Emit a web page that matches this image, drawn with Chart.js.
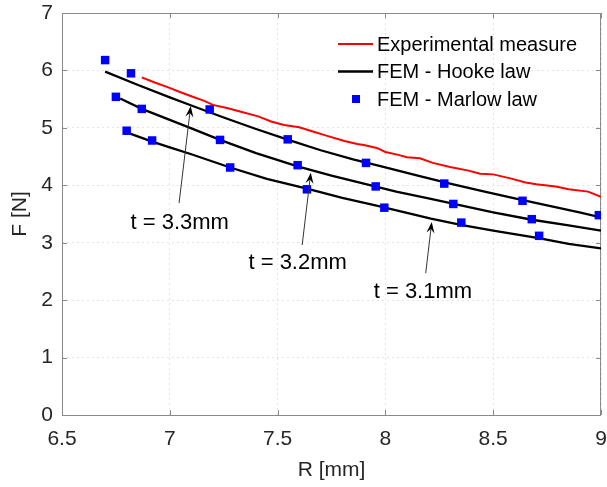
<!DOCTYPE html>
<html>
<head>
<meta charset="utf-8">
<script src="https://cdn.jsdelivr.net/npm/chart.js@4.4.0/dist/chart.umd.min.js"></script>
<style>
  html, body { margin: 0; padding: 0; background: #fff; }
  #wrap { width: 607px; height: 487px; }
</style>
</head>
<body>
<div id="wrap"><canvas id="forceChart" width="607" height="487"></canvas></div>
<script>
// Experimental measure
const expR = [6.87, 6.93, 6.99, 7.05, 7.10, 7.16, 7.20, 7.27, 7.33, 7.41, 7.47, 7.53, 7.60, 7.66, 7.73, 7.81, 7.87, 7.90, 7.96, 8.00, 8.06, 8.10, 8.16, 8.22, 8.30, 8.38, 8.44, 8.50, 8.58, 8.65, 8.70, 8.79, 8.85, 8.94, 9.00];
const expF = [5.88, 5.79, 5.71, 5.62, 5.55, 5.47, 5.40, 5.34, 5.28, 5.20, 5.11, 5.05, 5.01, 4.94, 4.86, 4.77, 4.72, 4.70, 4.65, 4.58, 4.53, 4.49, 4.47, 4.39, 4.32, 4.26, 4.20, 4.19, 4.12, 4.05, 4.02, 3.98, 3.93, 3.89, 3.80];

// FEM - Hooke law, one curve per thickness
const hooke33R = [6.70, 6.85, 7.00, 7.10, 7.25, 7.40, 7.55, 7.70, 7.85, 8.00, 8.15, 8.30, 8.45, 8.60, 8.75, 8.90, 9.00];
const hooke33F = [5.98, 5.75, 5.53, 5.39, 5.18, 4.98, 4.79, 4.61, 4.45, 4.31, 4.17, 4.03, 3.90, 3.77, 3.65, 3.53, 3.44];
const hooke32R = [6.77, 6.87, 7.00, 7.10, 7.233, 7.40, 7.593, 7.75, 7.90, 8.05, 8.20, 8.35, 8.50, 8.68, 8.85, 9.00];
const hooke32F = [5.51, 5.33, 5.14, 4.99, 4.79, 4.56, 4.33, 4.17, 4.03, 3.89, 3.77, 3.65, 3.53, 3.40, 3.30, 3.21];
const hooke31R = [6.80, 6.918, 7.00, 7.10, 7.28, 7.45, 7.636, 7.80, 7.964, 8.10, 8.211, 8.35, 8.50, 8.711, 8.85, 9.00];
const hooke31F = [4.92, 4.76, 4.66, 4.54, 4.31, 4.11, 3.94, 3.78, 3.64, 3.52, 3.42, 3.31, 3.21, 3.08, 2.98, 2.90];

// FEM - Marlow law
const marlowR = [6.70, 6.82, 7.185, 7.547, 7.91, 8.273, 8.636, 8.99, 6.75, 6.87, 7.233, 7.593, 7.955, 8.315, 8.679, 6.80, 6.918, 7.28, 7.636, 7.995, 8.352, 8.713];
const marlowF = [6.18, 5.95, 5.32, 4.80, 4.39, 4.03, 3.73, 3.48, 5.54, 5.33, 4.79, 4.35, 3.98, 3.675, 3.41, 4.95, 4.78, 4.31, 3.93, 3.61, 3.35, 3.12];

const xTicks = [6.5, 7, 7.5, 8, 8.5, 9];
const yTicks = [0, 1, 2, 3, 4, 5, 6, 7];

const thicknessLabels = ['t = 3.3mm', 't = 3.2mm', 't = 3.1mm'];

const FONT = "'Liberation Sans', Arial, sans-serif";
const AXIS_COLOR = '#8a8a8a';
const TEXT_COLOR = '#262626';

function toPoints(xs, ys) {
  return xs.map((x, i) => ({ x: x, y: ys[i] }));
}

// label position, arrow tail, arrow tip (data coordinates)
const labelPlacement = [
  { at: [7.046, 3.35], from: [7.043, 3.69], to: [7.097, 5.38] },
  { at: [7.593, 2.65], from: [7.614, 2.96], to: [7.654, 4.22] },
  { at: [8.174, 2.15], from: [8.187, 2.47], to: [8.215, 3.36] }
];

const lineDataset = (label, xs, ys, color, width, legendRow) => ({
  label: label,
  data: toPoints(xs, ys),
  showLine: true,
  borderColor: color,
  backgroundColor: color,
  borderWidth: width,
  pointRadius: 0,
  tension: 0,
  legendRow: legendRow,
  order: 2
});

const boxPlugin = {
  id: 'boxPlugin',
  beforeDatasetsDraw(chart) {
    const { ctx, chartArea: a, scales } = chart;
    ctx.save();
    ctx.strokeStyle = AXIS_COLOR;
    ctx.lineWidth = 1;
    ctx.strokeRect(a.left + 0.5, a.top + 0.5, a.right - a.left - 1, a.bottom - a.top);
    ctx.beginPath();
    xTicks.forEach(v => {
      const px = Math.round(scales.x.getPixelForValue(v)) + 0.5;
      ctx.moveTo(px, a.bottom); ctx.lineTo(px, a.bottom - 5);
      ctx.moveTo(px, a.top); ctx.lineTo(px, a.top + 5);
    });
    yTicks.forEach(v => {
      const py = Math.round(scales.y.getPixelForValue(v)) + 0.5;
      ctx.moveTo(a.left, py); ctx.lineTo(a.left + 5, py);
      ctx.moveTo(a.right, py); ctx.lineTo(a.right - 5, py);
    });
    ctx.stroke();
    ctx.restore();
  }
};

const notePlugin = {
  id: 'notePlugin',
  afterDatasetsDraw(chart) {
    const { ctx, scales } = chart;
    ctx.save();
    labelPlacement.forEach((p, i) => {
      const tx = scales.x.getPixelForValue(p.at[0]);
      const ty = scales.y.getPixelForValue(p.at[1]);
      const x0 = scales.x.getPixelForValue(p.from[0]);
      const y0 = scales.y.getPixelForValue(p.from[1]);
      const x1 = scales.x.getPixelForValue(p.to[0]);
      const y1 = scales.y.getPixelForValue(p.to[1]);
      const ang = Math.atan2(y1 - y0, x1 - x0);
      ctx.strokeStyle = '#333';
      ctx.lineWidth = 1;
      ctx.beginPath();
      ctx.moveTo(x0, y0);
      ctx.lineTo(x1 - 6 * Math.cos(ang), y1 - 6 * Math.sin(ang));
      ctx.stroke();
      // dart arrow head
      const len = 11, half = 4;
      const bx = x1 - len * Math.cos(ang), by = y1 - len * Math.sin(ang);
      const nx = -Math.sin(ang), ny = Math.cos(ang);
      const mx = x1 - (len - 4) * Math.cos(ang), my = y1 - (len - 4) * Math.sin(ang);
      ctx.fillStyle = '#000';
      ctx.beginPath();
      ctx.moveTo(x1, y1);
      ctx.lineTo(bx + nx * half, by + ny * half);
      ctx.lineTo(mx, my);
      ctx.lineTo(bx - nx * half, by - ny * half);
      ctx.closePath();
      ctx.fill();
      ctx.fillStyle = '#000';
      ctx.font = '22px ' + FONT;
      ctx.textAlign = 'center';
      ctx.textBaseline = 'middle';
      ctx.fillText(thicknessLabels[i], tx, ty);
    });
    ctx.restore();
  }
};

const legendPlugin = {
  id: 'legendPlugin',
  afterDatasetsDraw(chart) {
    const { ctx, chartArea: a } = chart;
    const items = chart.data.datasets
      .filter(d => d.legendRow !== undefined)
      .sort((p, q) => p.legendRow - q.legendRow);
    const x0 = a.right - 263, y0 = a.top + 31, row = 27.5;
    ctx.save();
    ctx.font = '20px ' + FONT;
    ctx.textBaseline = 'middle';
    ctx.textAlign = 'left';
    items.forEach((d, i) => {
      const y = y0 + i * row;
      if (d.showLine) {
        ctx.strokeStyle = d.borderColor;
        ctx.lineWidth = d.borderWidth;
        ctx.beginPath();
        ctx.moveTo(x0, y);
        ctx.lineTo(x0 + 35, y);
        ctx.stroke();
      } else {
        ctx.fillStyle = d.backgroundColor;
        ctx.fillRect(x0 + 14, y - 4, 8, 8);
      }
      ctx.fillStyle = '#000';
      ctx.fillText(d.label, x0 + 39, y + 1);
    });
    ctx.restore();
  }
};

new Chart(document.getElementById('forceChart').getContext('2d'), {
  type: 'scatter',
  data: {
    datasets: [
      {
        label: 'FEM - Marlow law',
        data: toPoints(marlowR, marlowF),
        showLine: false,
        pointStyle: 'rect',
        pointRadius: 6,
        pointHoverRadius: 6,
        borderWidth: 0,
        backgroundColor: '#0000ff',
        borderColor: '#0000ff',
        legendRow: 2,
        order: 0
      },
      lineDataset('Experimental measure', expR, expF, '#ff0000', 2, 0),
      lineDataset('FEM - Hooke law', hooke33R, hooke33F, '#000000', 2.3, 1),
      lineDataset('t = 3.2mm', hooke32R, hooke32F, '#000000', 2.3),
      lineDataset('t = 3.1mm', hooke31R, hooke31F, '#000000', 2.3)
    ]
  },
  options: {
    responsive: false,
    animation: false,
    devicePixelRatio: 1,
    layout: { padding: { top: 13, right: 0, left: 0, bottom: 0 } },
    plugins: {
      legend: { display: false },
      tooltip: { enabled: false }
    },
    scales: {
      x: {
        type: 'linear',
        min: 6.5,
        max: 9,
        afterBuildTicks: scale => { scale.ticks = xTicks.map(v => ({ value: v })); },
        afterFit: scale => { scale.height = 72; scale.paddingLeft = 0; scale.paddingRight = 0; },
        grid: { color: '#e4e4e4', lineWidth: 1, drawTicks: false },
        border: { display: false, dash: [2, 3] },
        ticks: { color: TEXT_COLOR, font: { family: FONT, size: 21 }, padding: 12, maxRotation: 0, callback: v => String(v) },
        title: { display: true, text: 'R [mm]', color: TEXT_COLOR, font: { family: FONT, size: 21 }, padding: { top: 3 } }
      },
      y: {
        type: 'linear',
        min: 0,
        max: 7,
        afterBuildTicks: scale => { scale.ticks = yTicks.map(v => ({ value: v })); },
        afterFit: scale => { scale.width = 62; scale.paddingTop = 0; scale.paddingBottom = 0; },
        grid: { color: '#e4e4e4', lineWidth: 1, drawTicks: false },
        border: { display: false, dash: [2, 3] },
        ticks: { color: TEXT_COLOR, font: { family: FONT, size: 21 }, padding: 9, callback: v => String(v) },
        title: { display: true, text: 'F [N]', color: TEXT_COLOR, font: { family: FONT, size: 21 }, padding: { top: 8, bottom: 0 } }
      }
    }
  },
  plugins: [boxPlugin, notePlugin, legendPlugin]
});
</script>
</body>
</html>
